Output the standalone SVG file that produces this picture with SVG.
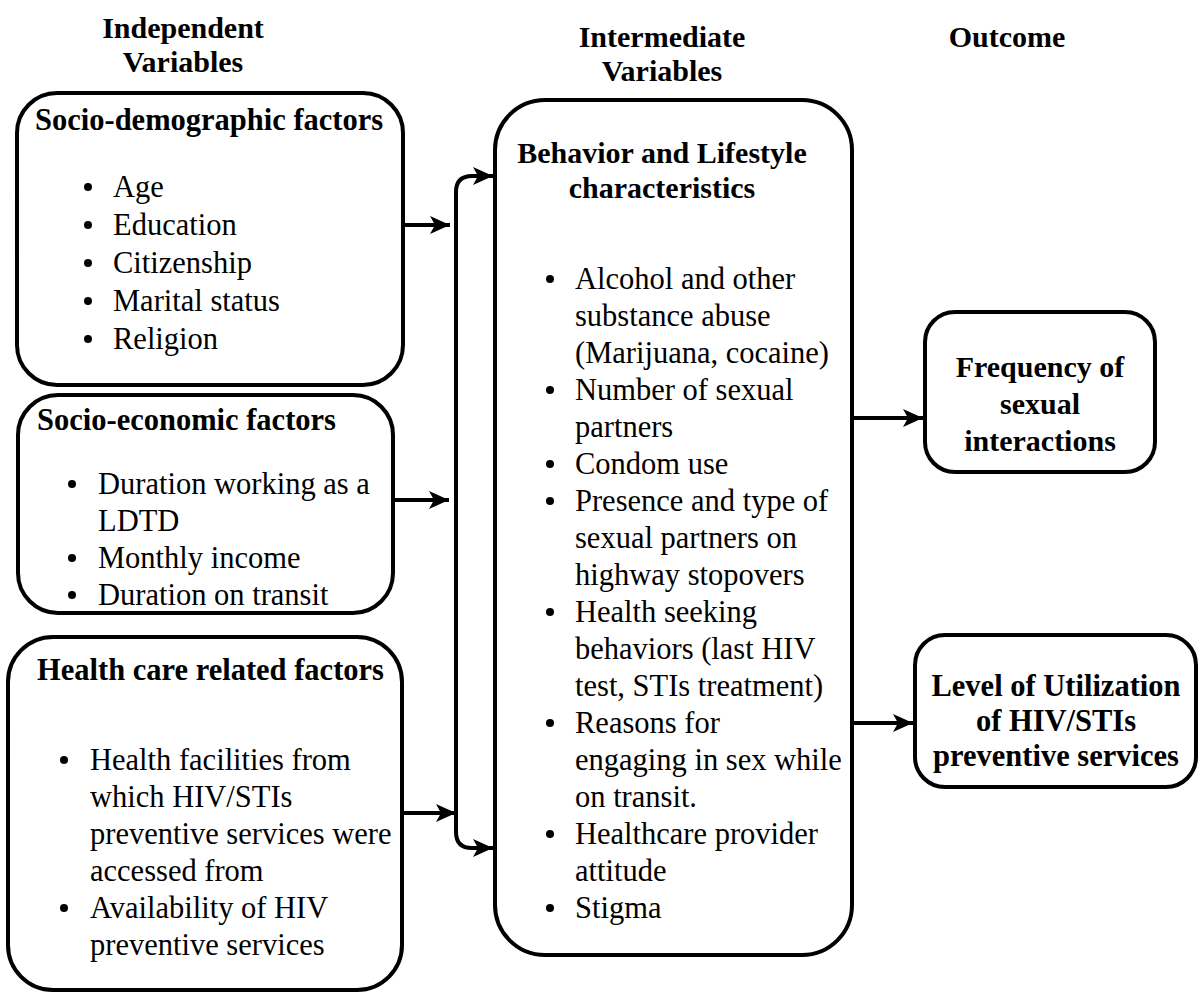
<svg xmlns="http://www.w3.org/2000/svg" width="1201" height="992" viewBox="0 0 1201 992">
<style>
.box{fill:#fff;stroke:#000;stroke-width:4}
.con{fill:none;stroke:#000;stroke-width:4}
</style>
<defs>
<marker id="ah" markerWidth="22" markerHeight="18" refX="20" refY="9" orient="auto" markerUnits="userSpaceOnUse">
<path d="M0,0 L20,9 L0,18 L5,9 z" fill="#000"/>
</marker>
</defs>
<rect width="1201" height="992" fill="#fff"/>
<g id="headers" font-family="Liberation Serif, Times New Roman, serif" font-weight="bold" font-size="30" text-anchor="middle">
<text x="183" y="38">Independent</text>
<text x="183" y="72">Variables</text>
<text x="662" y="47">Intermediate</text>
<text x="662" y="81">Variables</text>
<text x="1007" y="47">Outcome</text>
</g>
<g id="socio-demographic" font-family="Liberation Serif, Times New Roman, serif" font-size="30.5">
<rect class="box" x="17" y="93" width="386" height="292" rx="40"/>
<text x="35" y="130" font-weight="bold" font-size="30.5">Socio-demographic factors</text>
<circle cx="88" cy="187" r="4"/><text x="113" y="197">Age</text>
<circle cx="88" cy="225" r="4"/><text x="113" y="235">Education</text>
<circle cx="88" cy="263" r="4"/><text x="113" y="273">Citizenship</text>
<circle cx="88" cy="301" r="4"/><text x="113" y="311">Marital status</text>
<circle cx="88" cy="339" r="4"/><text x="113" y="349">Religion</text>
</g>
<g id="socio-economic" font-family="Liberation Serif, Times New Roman, serif" font-size="30.5">
<rect class="box" x="18" y="395" width="375" height="218" rx="40"/>
<text x="37" y="430" font-weight="bold" font-size="30.5">Socio-economic factors</text>
<circle cx="72" cy="484" r="4"/><text x="98" y="494">Duration working as a</text>
<text x="98" y="531">LDTD</text>
<circle cx="72" cy="558" r="4"/><text x="98" y="568">Monthly income</text>
<circle cx="72" cy="595" r="4"/><text x="98" y="605">Duration on transit</text>
</g>
<g id="health-care" font-family="Liberation Serif, Times New Roman, serif" font-size="30.5">
<rect class="box" x="8" y="637" width="394" height="353" rx="45"/>
<text x="37" y="680" font-weight="bold" font-size="30.5">Health care related factors</text>
<circle cx="64" cy="760" r="4"/><text x="90" y="770">Health facilities from</text>
<text x="90" y="807">which HIV/STIs</text>
<text x="90" y="844">preventive services were</text>
<text x="90" y="881">accessed from</text>
<circle cx="64" cy="908" r="4"/><text x="90" y="918">Availability of HIV</text>
<text x="90" y="955">preventive services</text>
</g>
<g id="behavior" font-family="Liberation Serif, Times New Roman, serif" font-size="30.5">
<rect class="box" x="495" y="100" width="357" height="855" rx="50"/>
<text x="662" y="163" font-weight="bold" font-size="30" text-anchor="middle">Behavior and Lifestyle</text>
<text x="662" y="198" font-weight="bold" font-size="30" text-anchor="middle">characteristics</text>
<circle cx="550" cy="279" r="4"/><text x="575" y="289">Alcohol and other</text>
<text x="575" y="326">substance abuse</text>
<text x="575" y="363">(Marijuana, cocaine)</text>
<circle cx="550" cy="390" r="4"/><text x="575" y="400">Number of sexual</text>
<text x="575" y="437">partners</text>
<circle cx="550" cy="464" r="4"/><text x="575" y="474">Condom use</text>
<circle cx="550" cy="501" r="4"/><text x="575" y="511">Presence and type of</text>
<text x="575" y="548">sexual partners on</text>
<text x="575" y="585">highway stopovers</text>
<circle cx="550" cy="612" r="4"/><text x="575" y="622">Health seeking</text>
<text x="575" y="659">behaviors (last HIV</text>
<text x="575" y="696">test, STIs treatment)</text>
<circle cx="550" cy="723" r="4"/><text x="575" y="733">Reasons for</text>
<text x="575" y="770">engaging in sex while</text>
<text x="575" y="807">on transit.</text>
<circle cx="550" cy="834" r="4"/><text x="575" y="844">Healthcare provider</text>
<text x="575" y="881">attitude</text>
<circle cx="550" cy="908" r="4"/><text x="575" y="918">Stigma</text>
</g>
<g id="frequency" font-family="Liberation Serif, Times New Roman, serif" font-size="30" font-weight="bold" text-anchor="middle">
<rect class="box" x="925" y="312" width="230" height="160" rx="30"/>
<text x="1040" y="377">Frequency of</text>
<text x="1040" y="414">sexual</text>
<text x="1040" y="451">interactions</text>
</g>
<g id="utilization" font-family="Liberation Serif, Times New Roman, serif" font-size="30.5" font-weight="bold" text-anchor="middle">
<rect class="box" x="915" y="635" width="281" height="152" rx="30"/>
<text x="1056" y="696">Level of Utilization</text>
<text x="1056" y="731">of HIV/STIs</text>
<text x="1056" y="766">preventive services</text>
</g>
<g id="connectors">
<path class="con" d="M403,225 H450" marker-end="url(#ah)"/>
<path class="con" d="M393,500 H449" marker-end="url(#ah)"/>
<path class="con" d="M403,813 H456" marker-end="url(#ah)"/>
<path class="con" d="M456,500 V192 Q456,176 472,176 H493" marker-end="url(#ah)"/>
<path class="con" d="M456,500 V832 Q456,848 472,848 H493" marker-end="url(#ah)"/>
<path class="con" d="M852,418 H923" marker-end="url(#ah)"/>
<path class="con" d="M852,723 H913" marker-end="url(#ah)"/>
</g>
</svg>
